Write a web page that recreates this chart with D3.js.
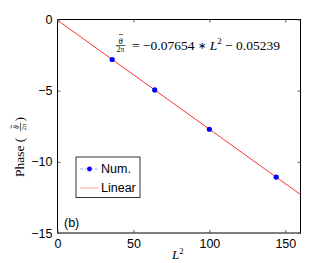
<!DOCTYPE html>
<html>
<head>
<meta charset="utf-8">
<script src="https://cdn.jsdelivr.net/npm/d3@7"></script>
<style>
body{margin:0;background:#fff;}
text{font-family:"Liberation Sans",Arial,sans-serif;}
.ser{font-family:"Liberation Serif","Times New Roman",serif;}
</style>
</head>
<body>
<div id="chart"></div>
<script>
// numerical points (L^2, phase)
var L2 = [36, 64, 100, 144];
var phase = [-2.81, -4.95, -7.71, -11.07];
// linear fit
var slope = -0.07654, icpt = -0.05239;
var fitX = [0, 160];
var xTicks = [0, 50, 100, 150];
var yTicks = [0, -5, -10, -15];

var W = 332, H = 263;
var svg = d3.select("#chart").append("svg").attr("width", W).attr("height", H);

var x = d3.scaleLinear().domain([0, 160]).range([57.5, 300.5]);
var y = d3.scaleLinear().domain([-15, 0]).range([233, 19.5]);

// box
svg.append("rect").attr("x", x(0)).attr("y", y(0))
  .attr("width", x(160) - x(0)).attr("height", y(-15) - y(0))
  .attr("fill", "none").attr("stroke", "#000").attr("stroke-width", 1);

// ticks inside, all four sides
var tl = 3;
var axB = d3.axisBottom(x).tickValues(xTicks).tickSize(-tl).tickPadding(6).tickFormat(d3.format("d"));
var axT = d3.axisTop(x).tickValues(xTicks).tickSize(-tl).tickFormat("");
var axL = d3.axisLeft(y).tickValues(yTicks).tickSize(-tl).tickPadding(5)
  .tickFormat(function(d){ return d < 0 ? "\u2212" + Math.abs(d) : d; });
var axR = d3.axisRight(y).tickValues(yTicks).tickSize(-tl).tickFormat("");

[[axB, "translate(0," + y(-15) + ")"], [axT, "translate(0," + y(0) + ")"],
 [axL, "translate(" + x(0) + ",0)"], [axR, "translate(" + x(160) + ",0)"]].forEach(function(a){
  var g = svg.append("g").attr("transform", a[1]).call(a[0]);
  g.select(".domain").remove();
  g.selectAll("line").attr("stroke", "#555");
  g.selectAll("text").attr("fill", "#000").style("font-size", "12.5px")
    .style("font-family", "'Liberation Sans',Arial,sans-serif");
});

// fit line
var line = d3.line().x(function(d){ return x(d); }).y(function(d){ return y(slope * d + icpt); });
svg.append("path").datum(fitX).attr("d", line)
  .attr("fill", "none").attr("stroke", "#ff0000").attr("stroke-width", 0.8);

// points
svg.selectAll(".pt").data(L2).enter().append("circle")
  .attr("cx", function(d){ return x(d); })
  .attr("cy", function(d, i){ return y(phase[i]); })
  .attr("r", 2.6).attr("fill", "#0000ff");

// small theta-bar over 2pi fraction
function frac(g, cx, cy, s){
  g.append("text").attr("x", cx).attr("y", cy - 2 * s).attr("text-anchor", "middle")
    .attr("class", "ser").style("font-style", "italic").style("font-size", (8.5 * s) + "px").text("\u03B8");
  g.append("line").attr("x1", cx - 1.6 * s).attr("x2", cx + 2.4 * s)
    .attr("y1", cy - 11 * s).attr("y2", cy - 11 * s).attr("stroke", "#000").attr("stroke-width", 0.6);
  g.append("line").attr("x1", cx - 5 * s).attr("x2", cx + 5 * s).attr("y1", cy).attr("y2", cy)
    .attr("stroke", "#000").attr("stroke-width", 0.6);
  g.append("text").attr("x", cx).attr("y", cy + 6.5 * s).attr("text-anchor", "middle")
    .attr("class", "ser").style("font-size", (7.5 * s) + "px").text("2\u03C0");
}

// equation annotation
var eq = svg.append("g");
frac(eq, 120.5, 45.5, 1);
var eqt = eq.append("text").attr("x", 132).attr("y", 49.5).attr("class", "ser")
  .style("font-size", "13.5px");
eqt.append("tspan").text("= \u22120.07654 ");
eqt.append("tspan").style("font-family", "'DejaVu Sans',sans-serif").style("font-size", "10px")
  .attr("dy", -0.5).text("\u2217");
eqt.append("tspan").attr("dy", 0.5).text(" ");
eqt.append("tspan").style("font-style", "italic").text("L");
eqt.append("tspan").attr("dy", -5.5).style("font-size", "9px").text("2");
eqt.append("tspan").attr("dy", 5.5).text(" \u2212 0.05239");

// axis labels
var xl = svg.append("text").attr("x", 172).attr("y", 259).attr("class", "ser")
  .style("font-size", "13px");
xl.append("tspan").style("font-style", "italic").text("L");
xl.append("tspan").attr("dy", -5).style("font-size", "8.5px").text("2");

var yl = svg.append("g").attr("transform", "translate(24,177) rotate(-90)");
yl.append("text").attr("x", 0).attr("y", 0).attr("class", "ser").style("font-size", "13.5px").text("Phase (");
frac(yl, 50, -3.5, 0.85);
yl.append("text").attr("x", 55.5).attr("y", 0).attr("class", "ser").style("font-size", "13.5px").text(")");

// legend
var leg = svg.append("g");
leg.append("rect").attr("x", 76).attr("y", 157).attr("width", 64).attr("height", 40.5)
  .attr("fill", "#fff").attr("stroke", "#333").attr("stroke-width", 1);
leg.append("line").attr("x1", 80).attr("x2", 99).attr("y1", 169).attr("y2", 169)
  .attr("stroke", "#9999ff").attr("stroke-dasharray", "3,2").attr("stroke-width", 0.8);
leg.append("circle").attr("cx", 89.5).attr("cy", 169).attr("r", 2.4).attr("fill", "#0000ff");
leg.append("text").attr("x", 101).attr("y", 173).style("font-size", "12.5px").text("Num.");
leg.append("line").attr("x1", 80).attr("x2", 99).attr("y1", 188).attr("y2", 188)
  .attr("stroke", "#ff8888").attr("stroke-width", 0.8);
leg.append("text").attr("x", 101).attr("y", 192).style("font-size", "12.5px").text("Linear");

svg.append("text").attr("x", 64).attr("y", 227).style("font-size", "12.5px").text("(b)");
</script>
</body>
</html>
